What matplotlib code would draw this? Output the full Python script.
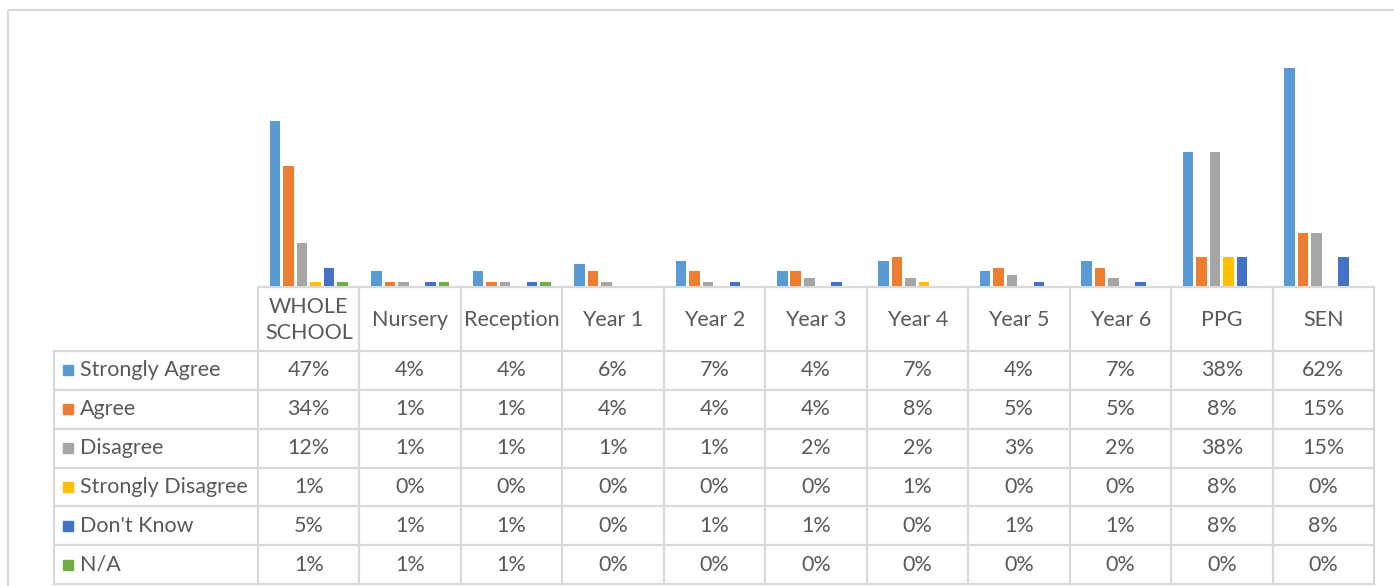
import matplotlib
matplotlib.use("Agg")
import matplotlib.pyplot as plt
from matplotlib.patches import Rectangle

categories = ["WHOLE\nSCHOOL", "Nursery", "Reception", "Year 1", "Year 2", "Year 3",
              "Year 4", "Year 5", "Year 6", "PPG", "SEN"]
series_names = ["Strongly Agree", "Agree", "Disagree", "Strongly Disagree", "Don't Know", "N/A"]
strongly_agree = [47, 4, 4, 6, 7, 4, 7, 4, 7, 38, 62]
agree = [34, 1, 1, 4, 4, 4, 8, 5, 5, 8, 15]
disagree = [12, 1, 1, 1, 1, 2, 2, 3, 2, 38, 15]
strongly_disagree = [1, 0, 0, 0, 0, 0, 1, 0, 0, 8, 0]
dont_know = [5, 1, 1, 0, 1, 1, 0, 1, 1, 8, 8]
na = [1, 1, 1, 0, 0, 0, 0, 0, 0, 0, 0]
series = [strongly_agree, agree, disagree, strongly_disagree, dont_know, na]
colors = ["#5B9BD5", "#ED7D31", "#A5A5A5", "#FFC000", "#4472C4", "#70AD47"]

W, H = 1394, 586
fig = plt.figure(figsize=(W / 100, H / 100), dpi=100)
FONT = "Lato"
FS = 15.5
TXT = "#595959"
GRID = "#D9D9D9"

ov = fig.add_axes([0, 0, 1, 1])
ov.set_xlim(0, W)
ov.set_ylim(H, 0)
ov.axis("off")

# outer chart border
ov.plot([7.5, W], [9.5, 9.5], color=GRID, lw=1.5, solid_capstyle="butt")
ov.plot([7.5, 7.5], [9.5, H], color=GRID, lw=1.5, solid_capstyle="butt")

x0, x1 = 258, 1374
n = len(categories)
cw = (x1 - x0) / n
lx = 54
hy0, hy1 = 287, 351
row_h = (584 - hy1) / len(series)

# bar axes
base_y = 285.5
top_y = 40
ax = fig.add_axes([x0 / W, (H - base_y) / H, (x1 - x0) / W, (base_y - top_y) / H])
ax.set_xlim(-0.5, n - 0.5)
ax.set_ylim(0, 70)
ax.axis("off")
step = 0.133
bw = 0.104
for i, (vals, c) in enumerate(zip(series, colors)):
    xs = [k + (i - 2.5) * step for k in range(n)]
    ax.bar(xs, vals, width=bw, color=c, edgecolor="none")

# table grid
lw = 1.6
ov.plot([x0, x1], [hy0, hy0], color=GRID, lw=lw)
ov.plot([lx, x1], [hy1, hy1], color=GRID, lw=lw)
for r in range(1, len(series) + 1):
    y = hy1 + r * row_h
    ov.plot([lx, x1], [y, y], color=GRID, lw=lw)
for k in range(n + 1):
    x = x0 + k * cw
    ov.plot([x, x], [hy0, 584], color=GRID, lw=lw)
ov.plot([lx, lx], [hy1, 584], color=GRID, lw=lw)

# header labels
for k, cat in enumerate(categories):
    ov.text(x0 + (k + 0.5) * cw, (hy0 + hy1) / 2 + 1, cat, ha="center", va="center",
            fontsize=FS, color=TXT, family=FONT, linespacing=1.35)

# rows
for r, (name, vals, c) in enumerate(zip(series_names, series, colors)):
    yc = hy1 + (r + 0.5) * row_h
    ov.add_patch(Rectangle((63, yc - 5), 10, 10, color=c))
    ov.text(80, yc, name, ha="left", va="center", fontsize=FS, color=TXT, family=FONT)
    for k, v in enumerate(vals):
        ov.text(x0 + (k + 0.5) * cw, yc, f"{v}%", ha="center", va="center",
                fontsize=FS, color=TXT, family=FONT)

fig.savefig("out.png", dpi=100, facecolor="white")
